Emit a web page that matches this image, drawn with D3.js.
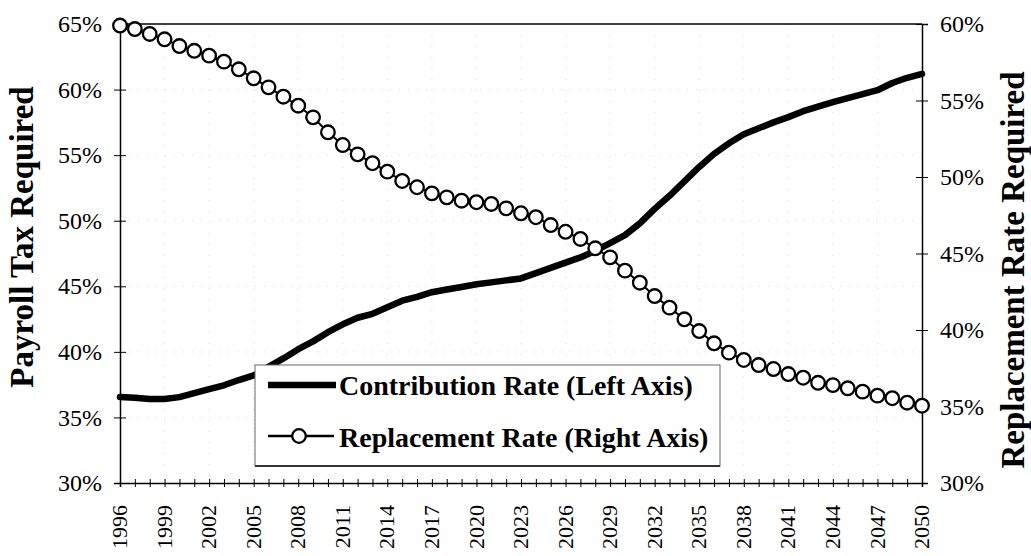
<!DOCTYPE html>
<html lang="en">
<head>
<meta charset="UTF-8">
<title>Payroll Tax vs Replacement Rate</title>
<script src="https://d3js.org/d3.v7.min.js"></script>
<style>
  body { margin: 0; background: #fff; }
  svg { display: block; }
  .axis text { font-family: "Liberation Serif", "Times New Roman", serif; fill: #000; }
  .axis path, .axis line { stroke: #000; }
  .title { font-family: "Liberation Serif", "Times New Roman", serif; font-weight: bold; fill: #000; }
</style>
</head>
<body>
<script>
// years 1996..2050
const years = d3.range(1996, 2051);

// contribution rate (left axis, %)
const contribution = [
  36.55, 36.5, 36.4, 36.4, 36.55, 36.85, 37.15, 37.45, 37.85, 38.2,
  38.85, 39.5, 40.2, 40.8, 41.5, 42.1, 42.6, 42.9, 43.4, 43.9,
  44.2, 44.55, 44.75, 44.95, 45.15, 45.3, 45.45, 45.6, 46.0, 46.4,
  46.8, 47.2, 47.7, 48.3, 48.9, 49.8, 50.9, 51.9, 53.0, 54.1,
  55.1, 55.9, 56.6, 57.05, 57.5, 57.9, 58.35, 58.7, 59.05, 59.35,
  59.65, 59.95, 60.5, 60.9, 61.2
];

// replacement rate (right axis, %)
const replacement = [
  59.9, 59.67, 59.35, 59.0, 58.56, 58.25, 57.93, 57.54, 57.04, 56.45,
  55.86, 55.25, 54.66, 53.9, 52.92, 52.09, 51.48, 50.9, 50.35, 49.74,
  49.33, 48.93, 48.67, 48.45, 48.35, 48.24, 47.95, 47.63, 47.37, 46.86,
  46.42, 45.95, 45.34, 44.75, 43.88, 43.09, 42.22, 41.46, 40.7, 39.93,
  39.13, 38.52, 38.04, 37.71, 37.45, 37.12, 36.88, 36.55, 36.4, 36.19,
  35.97, 35.71, 35.54, 35.25, 35.05
];

const leftTicks = [30, 35, 40, 45, 50, 55, 60, 65];
const rightTicks = [30, 35, 40, 45, 50, 55, 60];
const yearLabels = years.filter(y => (y - 1996) % 3 === 0);

const seriesNames = ["Contribution Rate (Left Axis)", "Replacement Rate (Right Axis)"];

const width = 1031, height = 556;
const plot = { left: 120, right: 922, top: 24, bottom: 483 };

const svg = d3.select("body").append("svg")
  .attr("width", width)
  .attr("height", height);

const x = d3.scaleLinear().domain([1996, 2050]).range([plot.left, plot.right]);
const yL = d3.scaleLinear().domain([30, 65]).range([plot.bottom, plot.top]);
const yR = d3.scaleLinear().domain([30, 60]).range([plot.bottom, plot.top]);

// faint dotted grid, like the scan
const grid = svg.append("g");
grid.selectAll("line.h").data(leftTicks.slice(1, -1)).enter().append("line")
  .attr("x1", plot.left).attr("x2", plot.right)
  .attr("y1", d => yL(d)).attr("y2", d => yL(d))
  .attr("stroke", "#d4d4d4").attr("stroke-width", 1).attr("stroke-dasharray", "1,8");
grid.selectAll("line.v").data(yearLabels.slice(1, -1)).enter().append("line")
  .attr("y1", plot.top).attr("y2", plot.bottom)
  .attr("x1", d => x(d)).attr("x2", d => x(d))
  .attr("stroke", "#d4d4d4").attr("stroke-width", 1).attr("stroke-dasharray", "1,10");

// top border
svg.append("line")
  .attr("x1", plot.left).attr("x2", plot.right).attr("y1", plot.top).attr("y2", plot.top)
  .attr("stroke", "#000").attr("stroke-width", 1.5);

// left axis
const gL = svg.append("g").attr("class", "axis")
  .attr("transform", `translate(${plot.left},0)`)
  .call(d3.axisLeft(yL).tickValues(leftTicks).tickSize(6).tickPadding(12).tickFormat(d => d + "%"));
gL.selectAll(".tick line").attr("x1", 6);
gL.select(".domain").attr("stroke-width", 1.5);
gL.selectAll("text").style("font-size", "24px");

// right axis
const gR = svg.append("g").attr("class", "axis")
  .attr("transform", `translate(${plot.right},0)`)
  .call(d3.axisRight(yR).tickValues(rightTicks).tickSize(6).tickPadding(12).tickFormat(d => d + "%"));
gR.selectAll(".tick line").attr("x1", -6);
gR.select(".domain").attr("stroke-width", 1.5);
gR.selectAll("text").style("font-size", "24px");

// bottom axis: yearly ticks
const gB = svg.append("g").attr("class", "axis")
  .attr("transform", `translate(0,${plot.bottom})`)
  .call(d3.axisBottom(x).tickValues(years).tickSize(4).tickFormat(""));
gB.selectAll(".tick line").attr("y1", -4);
gB.select(".domain").attr("stroke-width", 1.5);

// bottom labels every 3 years, rotated
const gBL = svg.append("g").attr("class", "axis")
  .attr("transform", `translate(0,${plot.bottom})`)
  .call(d3.axisBottom(x).tickValues(yearLabels).tickSize(0).tickFormat(d3.format("d")));
gBL.select(".domain").remove();
gBL.selectAll("text")
  .attr("transform", "rotate(-90)")
  .attr("text-anchor", "end")
  .attr("x", -22)
  .attr("y", 0)
  .attr("dy", "0.3em")
  .style("font-size", "22px");

// contribution line
const lineL = d3.line().x((d, i) => x(years[i])).y(d => yL(d));
svg.append("path")
  .datum(contribution)
  .attr("d", lineL)
  .attr("fill", "none")
  .attr("stroke", "#000")
  .attr("stroke-width", 6.5)
  .attr("stroke-linejoin", "round")
  .attr("stroke-linecap", "round");

// replacement line with circles
const lineR = d3.line().x((d, i) => x(years[i])).y(d => yR(d));
svg.append("path")
  .datum(replacement)
  .attr("d", lineR)
  .attr("fill", "none")
  .attr("stroke", "#000")
  .attr("stroke-width", 2);
svg.append("g").selectAll("circle")
  .data(replacement)
  .enter().append("circle")
  .attr("cx", (d, i) => x(years[i]))
  .attr("cy", d => yR(d))
  .attr("r", 6.8)
  .attr("fill", "#fff")
  .attr("stroke", "#000")
  .attr("stroke-width", 2.3);

// axis titles
svg.append("text").attr("class", "title")
  .attr("transform", "translate(33,237) rotate(-90)")
  .attr("text-anchor", "middle")
  .style("font-size", "33px")
  .text("Payroll Tax Required");
svg.append("text").attr("class", "title")
  .attr("transform", "translate(1024,270) rotate(-90)")
  .attr("text-anchor", "middle")
  .style("font-size", "33px")
  .text("Replacement Rate Required");

// legend
const legend = svg.append("g");
legend.append("rect")
  .attr("x", 255).attr("y", 365).attr("width", 465).attr("height", 101)
  .attr("fill", "#fff").attr("stroke", "#666").attr("stroke-width", 1);
legend.append("line")
  .attr("x1", 255).attr("x2", 720).attr("y1", 466).attr("y2", 466)
  .attr("stroke", "#333").attr("stroke-width", 2);

legend.append("line")
  .attr("x1", 268).attr("x2", 336).attr("y1", 385).attr("y2", 385)
  .attr("stroke", "#000").attr("stroke-width", 6.5);
legend.append("text").attr("class", "title")
  .attr("x", 339).attr("y", 395)
  .style("font-size", "28px")
  .text(seriesNames[0]);

legend.append("line")
  .attr("x1", 268).attr("x2", 334).attr("y1", 436).attr("y2", 436)
  .attr("stroke", "#000").attr("stroke-width", 2.5);
legend.append("circle")
  .attr("cx", 299).attr("cy", 436).attr("r", 6.8)
  .attr("fill", "#fff").attr("stroke", "#000").attr("stroke-width", 2.3);
legend.append("text").attr("class", "title")
  .attr("x", 339).attr("y", 447)
  .style("font-size", "28px")
  .text(seriesNames[1]);
</script>
</body>
</html>
